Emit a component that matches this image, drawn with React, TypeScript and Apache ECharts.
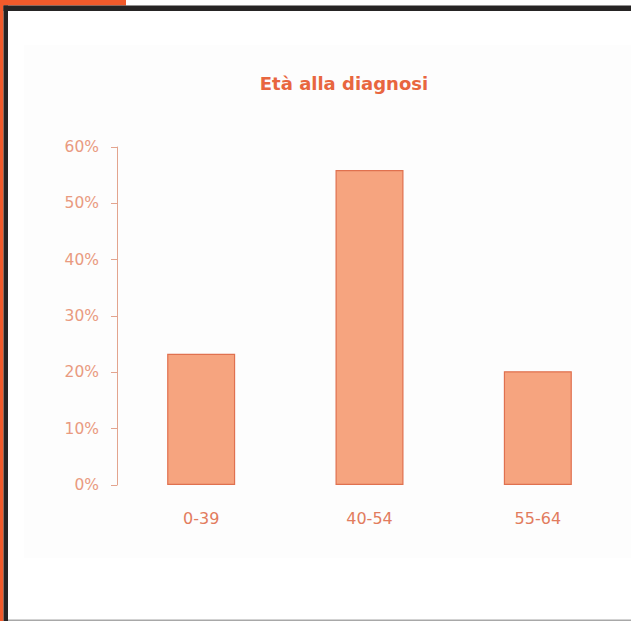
import React, { useEffect, useRef } from "react";
import * as echarts from "echarts";

const categories = ["0-39", "40-54", "55-64"];
const values = [23.3, 55.9, 20.2];
const yTicks = [0, 10, 20, 30, 40, 50, 60];

const FONT = "DejaVu Sans, Verdana, sans-serif";

export default function App() {
  const ref = useRef<HTMLDivElement>(null);
  useEffect(() => {
    document.body.style.margin = "0";
    const chart = echarts.init(ref.current!, null, { renderer: "svg" });
    chart.setOption({
      animation: false,
      backgroundColor: "#ffffff",
      title: {
        text: "Età alla diagnosi",
        left: 339,
        textAlign: "center",
        top: 69,
        textStyle: {
          color: "#E8663F",
          fontSize: 18,
          fontWeight: "bold",
          fontFamily: FONT,
        },
      },
      graphic: [
        { type: "rect", shape: { x: 24, y: 45, width: 607, height: 513 }, style: { fill: "#FDFDFD" }, z: -10 },
        { type: "rect", shape: { x: 0, y: 0, width: 126, height: 5.5 }, style: { fill: "#F15A2B" } },
        { type: "rect", shape: { x: 0, y: 0, width: 3.5, height: 621 }, style: { fill: "#F15A2B" } },
        { type: "rect", shape: { x: 3.5, y: 5.5, width: 628, height: 5.5 }, style: { fill: "#262424" } },
        { type: "rect", shape: { x: 3.5, y: 5.5, width: 4.5, height: 616 }, style: { fill: "#262424" } },
        { type: "rect", shape: { x: 8, y: 619.5, width: 623, height: 1.5 }, style: { fill: "#A8A8A8" } },
      ],
      grid: { left: 117, right: 9, top: 147, bottom: 136 },
      xAxis: {
        type: "category",
        data: categories,
        axisLine: { show: false },
        axisTick: { show: false },
        axisLabel: {
          color: "#E27C5E",
          fontSize: 16,
          margin: 25,
          fontFamily: FONT,
        },
      },
      yAxis: {
        type: "value",
        min: yTicks[0],
        max: yTicks[yTicks.length - 1],
        interval: 10,
        splitLine: { show: false },
        axisLine: { show: true, lineStyle: { color: "#E3A48E", width: 1 } },
        axisTick: { show: true, length: 6, lineStyle: { color: "#E3A48E" } },
        axisLabel: {
          formatter: "{value}%",
          color: "#E99A80",
          fontSize: 15.5,
          margin: 18,
          fontFamily: FONT,
        },
      },
      series: [
        {
          type: "bar",
          data: values,
          barWidth: 68,
          itemStyle: { color: "#F6A47F", borderColor: "#E0714F", borderWidth: 1.2 },
        },
      ],
    });
    return () => chart.dispose();
  }, []);
  return (
    <div
      ref={ref}
      style={{ position: "absolute", left: 0, top: 0, width: 631, height: 621 }}
    />
  );
}
